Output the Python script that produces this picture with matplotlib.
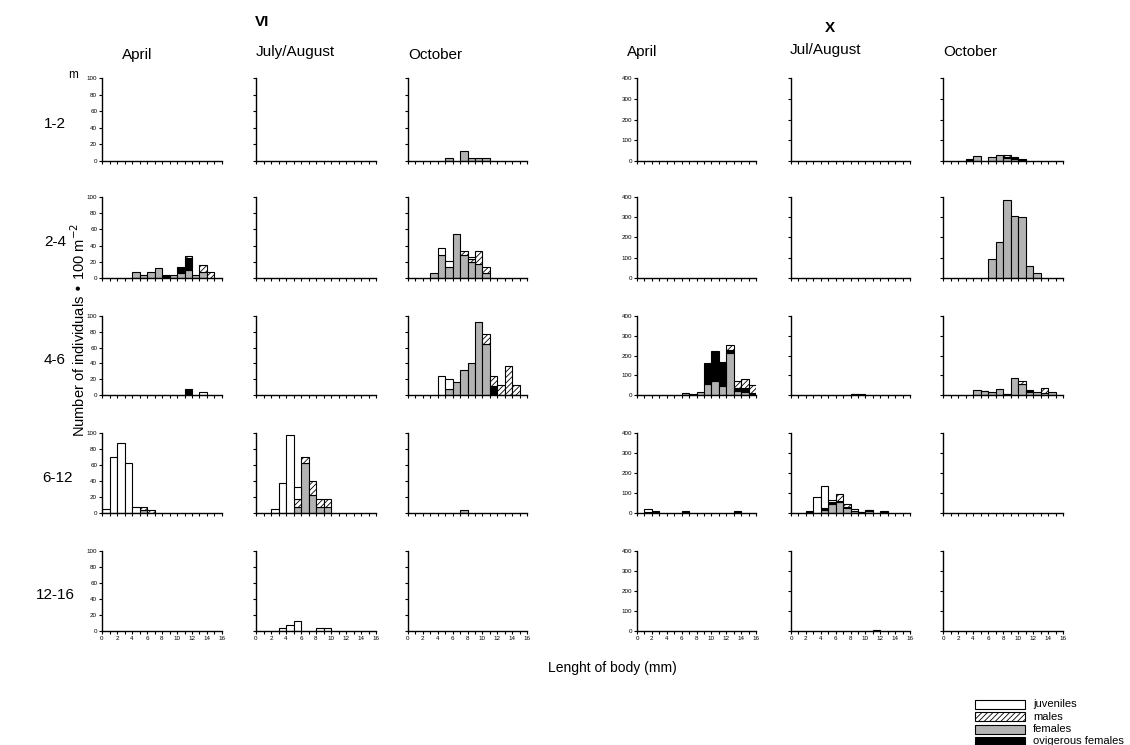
import matplotlib
matplotlib.use('Agg')
import matplotlib.pyplot as plt
from matplotlib.patches import Rectangle
import numpy as np

plt.rcParams['font.family'] = ['Liberation Sans', 'DejaVu Sans']
plt.rcParams['hatch.linewidth'] = 0.6

# panels: columns (site, month) x rows (depth)
sites = ["VI", "VI", "VI", "X", "X", "X"]
months = ["April", "July/August", "October", "April", "Jul/August", "October"]
depths = ["1-2", "2-4", "4-6", "6-12", "12-16"]
bins = np.arange(16)  # body length classes (mm), left edges

# values per panel (column, row) -> 16 length classes
females = {
    (0, 1): [0, 0, 0, 0, 8, 4, 8, 12, 0, 4, 6, 10, 4, 8, 0, 0],
    (0, 3): [0, 0, 0, 0, 0, 4, 0, 0, 0, 0, 0, 0, 0, 0, 0, 0],
    (1, 3): [0, 0, 0, 0, 0, 8, 62, 22, 8, 8, 0, 0, 0, 0, 0, 0],
    (2, 0): [0, 0, 0, 0, 0, 4, 0, 12, 4, 4, 4, 0, 0, 0, 0, 0],
    (2, 1): [0, 0, 0, 6, 29, 13, 54, 29, 20, 17, 6, 0, 0, 0, 0, 0],
    (2, 2): [0, 0, 0, 0, 0, 8, 16, 32, 41, 92, 64, 0, 0, 0, 0, 0],
    (2, 3): [0, 0, 0, 0, 0, 0, 0, 4, 0, 0, 0, 0, 0, 0, 0, 0],
    (3, 2): [0, 0, 0, 0, 0, 0, 8, 6, 14, 56, 71, 48, 213, 22, 17, 5],
    (3, 3): [0, 5, 6, 0, 0, 0, 6, 0, 0, 0, 0, 0, 0, 6, 0, 0],
    (4, 2): [0, 0, 0, 0, 0, 0, 0, 0, 4, 4, 0, 0, 0, 0, 0, 0],
    (4, 3): [0, 0, 4, 2, 15, 45, 54, 25, 8, 3, 10, 0, 4, 0, 0, 0],
    (4, 4): [0, 0, 0, 0, 0, 0, 0, 0, 0, 0, 0, 4, 0, 0, 0, 0],
    (5, 0): [0, 0, 0, 5, 25, 0, 18, 28, 15, 8, 4, 0, 0, 0, 0, 0],
    (5, 1): [0, 0, 0, 0, 0, 0, 94, 180, 386, 305, 301, 58, 27, 0, 0, 0],
    (5, 2): [0, 0, 0, 0, 27, 20, 17, 32, 3, 84, 57, 13, 13, 10, 17, 0],
}
ovigerous = {
    (0, 1): [0, 0, 0, 0, 0, 0, 0, 0, 4, 0, 7, 15, 0, 0, 0, 0],
    (0, 2): [0, 0, 0, 0, 0, 0, 0, 0, 0, 0, 0, 8, 0, 0, 0, 0],
    (2, 2): [0, 0, 0, 0, 0, 0, 0, 0, 0, 0, 0, 12, 0, 0, 0, 0],
    (3, 2): [0, 0, 0, 0, 0, 0, 0, 0, 0, 106, 154, 117, 17, 15, 17, 3],
    (3, 3): [0, 0, 2, 0, 0, 0, 2, 0, 0, 0, 0, 0, 0, 2, 0, 0],
    (4, 2): [0, 0, 0, 0, 0, 0, 0, 0, 1, 0, 0, 0, 0, 0, 0, 0],
    (4, 3): [0, 0, 2, 0, 8, 10, 4, 5, 4, 4, 3, 0, 4, 0, 0, 0],
    (5, 0): [0, 0, 0, 3, 0, 0, 0, 0, 5, 10, 4, 0, 0, 0, 0, 0],
    (5, 2): [0, 0, 0, 0, 0, 2, 0, 0, 4, 0, 0, 12, 0, 0, 0, 0],
}
males = {
    (0, 1): [0, 0, 0, 0, 0, 0, 0, 0, 0, 0, 0, 2, 0, 8, 8, 0],
    (0, 3): [0, 0, 0, 0, 0, 4, 4, 0, 0, 0, 0, 0, 0, 0, 0, 0],
    (1, 3): [0, 0, 0, 0, 0, 9, 8, 18, 9, 9, 0, 0, 0, 0, 0, 0],
    (2, 1): [0, 0, 0, 0, 0, 0, 0, 4, 3, 16, 7, 0, 0, 0, 0, 0],
    (2, 2): [0, 0, 0, 0, 0, 0, 0, 0, 0, 0, 13, 12, 13, 37, 13, 0],
    (3, 2): [0, 0, 0, 0, 0, 0, 0, 0, 0, 0, 0, 0, 25, 34, 48, 41],
    (4, 3): [0, 0, 0, 0, 0, 0, 36, 15, 0, 0, 0, 0, 0, 0, 0, 0],
    (5, 0): [0, 0, 0, 0, 0, 0, 0, 0, 8, 0, 0, 0, 0, 0, 0, 0],
    (5, 2): [0, 0, 0, 0, 0, 0, 0, 0, 0, 0, 12, 0, 0, 27, 0, 0],
}
juveniles = {
    (0, 2): [0, 0, 0, 0, 0, 0, 0, 0, 0, 0, 0, 0, 0, 4, 0, 0],
    (0, 3): [5, 70, 87, 63, 8, 0, 0, 0, 0, 0, 0, 0, 0, 0, 0, 0],
    (1, 3): [0, 0, 5, 37, 97, 16, 0, 0, 0, 0, 0, 0, 0, 0, 0, 0],
    (1, 4): [0, 0, 0, 4, 8, 12, 0, 0, 4, 4, 0, 0, 0, 0, 0, 0],
    (2, 1): [0, 0, 0, 0, 8, 8, 0, 0, 3, 0, 0, 0, 0, 0, 0, 0],
    (2, 2): [0, 0, 0, 0, 24, 12, 0, 0, 0, 0, 0, 0, 0, 0, 0, 0],
    (3, 3): [0, 16, 0, 0, 0, 0, 0, 0, 0, 0, 0, 0, 0, 0, 0, 0],
    (4, 3): [0, 0, 6, 77, 112, 12, 0, 0, 10, 0, 3, 0, 0, 0, 0, 0],
}

W, H = 1130, 745
col_x = [(102, 222), (256, 376), (408, 527), (637, 756), (791, 910), (943, 1063)]
row_y = [(78, 161), (197, 278), (316, 395), (433, 513), (551, 631)]

# stacking order bottom -> top
layers = [
    (females, dict(color='#b3b3b3', hatch=None)),
    (ovigerous, dict(color='black', hatch=None)),
    (males, dict(color='white', hatch='//////')),
    (juveniles, dict(color='white', hatch=None)),
]

fig = plt.figure(figsize=(W / 100, H / 100), dpi=100)

for c in range(6):
    ymax = 100 if sites[c] == "VI" else 400
    for r in range(5):
        x0, x1 = col_x[c]
        y0, y1 = row_y[r]
        ax = fig.add_axes([x0 / W, 1 - y1 / H, (x1 - x0) / W, (y1 - y0) / H])
        bottom = np.zeros(16)
        for data, st in layers:
            vals = np.array(data.get((c, r), [0] * 16), dtype=float)
            m = vals > 0
            if m.any():
                ax.bar(bins[m], vals[m], width=1, align='edge', bottom=bottom[m],
                       color=st['color'], hatch=st['hatch'], edgecolor='black',
                       linewidth=0.8, zorder=2)
            bottom += vals
        ax.set_xlim(0, 16)
        ax.set_ylim(0, ymax)
        ax.spines['top'].set_visible(False)
        ax.spines['right'].set_visible(False)
        for s in ('left', 'bottom'):
            ax.spines[s].set_linewidth(1.0)
        ax.set_xticks(range(17))
        if r == 4:
            ax.set_xticklabels([str(i) if i % 2 == 0 else '' for i in range(17)])
        else:
            ax.set_xticklabels([])
        ax.set_yticks(np.linspace(0, ymax, 6 if ymax == 100 else 5))
        if c in (0, 3):
            ax.set_yticklabels([str(int(v)) for v in ax.get_yticks()])
        else:
            ax.set_yticklabels([])
        ax.tick_params(direction='out', length=2.5, width=0.8, labelsize=4.5, pad=1)
        ax.patch.set_alpha(0)

# headers
fig.text(262 / W, 1 - 22 / H, "VI", fontsize=11, fontweight='bold', ha='center', va='center')
fig.text(830 / W, 1 - 28 / H, "X", fontsize=11, fontweight='bold', ha='center', va='center')
month_pos = [(122, 55), (256, 52), (408, 55), (627, 52), (790, 50), (943, 52)]
for (mx, my), name in zip(month_pos, months):
    fig.text(mx / W, 1 - my / H, name, fontsize=11, ha='left', va='center')

fig.text(68 / W, 1 - 75 / H, "m", fontsize=8.5, ha='left', va='center')
depth_pos = [(44, 124), (44, 242), (44, 360), (42, 478), (36, 595)]
for (dx, dy), d in zip(depth_pos, depths):
    fig.text(dx / W, 1 - dy / H, d, fontsize=11, ha='left', va='center')

fig.text(79 / W, 1 - 330 / H, "Number of individuals \u2022 100 m$^{-2}$", fontsize=10.5,
         rotation=90, ha='center', va='center')
fig.text(612 / W, 1 - 668 / H, "Lenght of body (mm)", fontsize=10, ha='center', va='center')

# legend
leg_items = [("juveniles", 'white', None), ("males", 'white', '//////'),
             ("females", '#b3b3b3', None), ("ovigerous females", 'black', None)]
leg_y = [704, 716.5, 729, 741.5]
for (lab, col, hat), ly in zip(leg_items, leg_y):
    rect = Rectangle((975 / W, 1 - (ly + 4.5) / H), 50 / W, 9 / H, transform=fig.transFigure,
                     facecolor=col, hatch=hat, edgecolor='black', linewidth=0.8)
    fig.patches.append(rect)
    fig.text(1033 / W, 1 - ly / H, lab, fontsize=8, ha='left', va='center')

fig.savefig('out.png', dpi=100)
